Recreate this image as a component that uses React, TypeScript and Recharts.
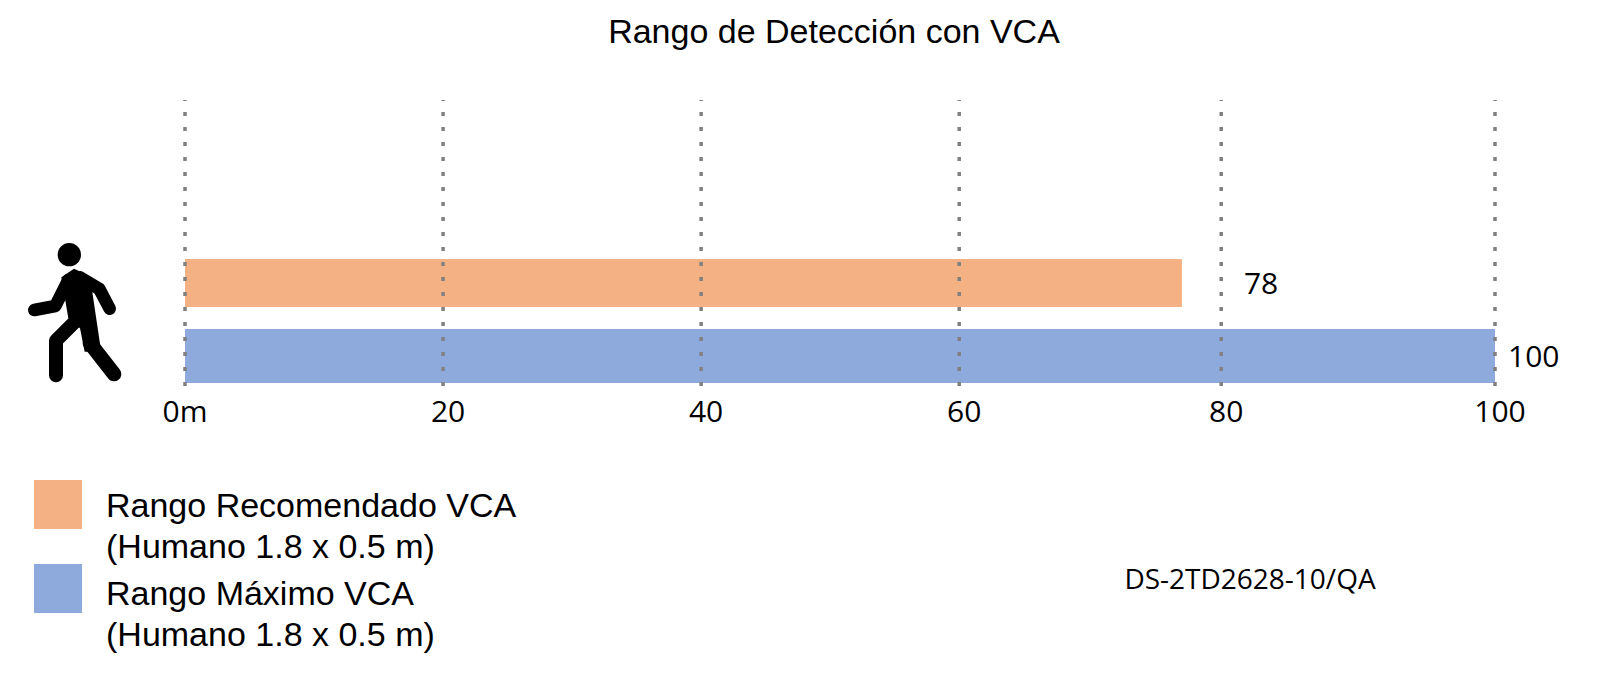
import React from 'react'
import {
  BarChart,
  Bar,
  XAxis,
  YAxis,
  ReferenceLine,
  Legend,
  LabelList,
} from 'recharts'

const categories = ['Humano']
const recommendedValues = [76.1] // bar as drawn in the picture, it stops short of its printed 78
const maximumValues = [100]
const recommendedLabel = '78'
const maximumLabel = '100'
const tickValues = [0, 19.7, 39.4, 59.1, 79.1, 100]
const tickLabels = ['0m', '20', '40', '60', '80', '100']
const seriesNames = ['Rango Recomendado VCA', 'Rango Máximo VCA']
const legendNote = '(Humano 1.8 x 0.5 m)'

const data = categories.map((name, i) => ({
  name,
  recomendado: recommendedValues[i],
  maximo: maximumValues[i],
}))

const ARIAL = '"Liberation Sans", Arial, sans-serif'
const LABEL_FONT = '"Open Sans", sans-serif'

const AxisTick = ({ x, y, index }: any) => (
  <text
    x={x}
    y={y}
    dx={index === 0 ? 0 : 5}
    dy={28}
    textAnchor="middle"
    fontFamily={LABEL_FONT}
    fontSize={30}
    fill="#000"
  >
    {tickLabels[index]}
  </text>
)

const LegendContent = ({ payload }: any) => (
  <div style={{ position: 'relative', width: 600, height: 190 }}>
    {(payload || []).map((item: any, i: number) => (
      <div key={item.value}>
        <div
          style={{
            position: 'absolute',
            left: 34,
            top: i * 84,
            width: 48,
            height: 49,
            background: item.color,
          }}
        />
        <div
          style={{
            position: 'absolute',
            left: 106,
            top: i * 88 + 5,
            fontFamily: ARIAL,
            fontSize: 34,
            lineHeight: '41px',
            color: '#000',
            whiteSpace: 'nowrap',
          }}
        >
          {item.value}
          <br />
          {legendNote}
        </div>
      </div>
    ))}
  </div>
)

const Walker = () => (
  <svg
    width={260}
    height={200}
    viewBox="0 0 780 600"
    style={{ position: 'absolute', left: 0, top: 220 }}
  >
    <circle cx={208} cy={104} r={35} fill="#000" />
    <polygon
      points="184,172 222,146 252,160 276,210 302,385 300,395 254,395 240,325 205,295"
      fill="#000"
    />
    <g fill="none" stroke="#000" strokeLinecap="round" strokeLinejoin="round">
      <polyline points="240,172 298,207 329,266" strokeWidth={38} />
      <polyline points="205,180 166,258 103,270" strokeWidth={38} />
      <polyline points="270,370 342,462" strokeWidth={44} />
      <polyline points="225,305 168,362 168,466" strokeWidth={42} />
    </g>
  </svg>
)

export default function App() {
  return (
    <div style={{ position: 'absolute', left: 0, top: 0, width: 1600, height: 674, background: '#fff' }}>
      <BarChart
        width={1600}
        height={674}
        data={data}
        layout="vertical"
        margin={{ top: 100, right: 105, bottom: 248, left: 185 }}
        barGap={22}
      >
        <text x={834} y={43} textAnchor="middle" fontFamily={ARIAL} fontSize={34} fill="#000">
          Rango de Detección con VCA
        </text>
        <text x={1250} y={589} textAnchor="middle" fontFamily={LABEL_FONT} fontSize={28} fill="#000">
          DS-2TD2628-10/QA
        </text>
        <XAxis
          type="number"
          domain={[0, 100]}
          ticks={tickValues}
          height={40}
          axisLine={false}
          tickLine={false}
          interval={0}
          tick={<AxisTick />}
        />
        <YAxis
          type="category"
          dataKey="name"
          hide
          width={0}
          padding={{ top: 156, bottom: 0 }}
        />
        <Legend
          layout="horizontal"
          verticalAlign="middle"
          itemSorter={null}
          content={<LegendContent />}
          wrapperStyle={{ left: 0, top: 480, width: 600, height: 190 }}
        />
        <Bar
          dataKey="recomendado"
          name={seriesNames[0]}
          fill="#F4B183"
          barSize={48}
          isAnimationActive={false}
        >
          <LabelList
            position="right"
            offset={62}
            valueAccessor={() => recommendedLabel}
            fontFamily={LABEL_FONT}
            fontSize={30}
            fill="#000"
          />
        </Bar>
        <Bar
          dataKey="maximo"
          name={seriesNames[1]}
          fill="#8EA9DB"
          barSize={54}
          isAnimationActive={false}
        >
          <LabelList
            position="right"
            offset={13}
            valueAccessor={() => maximumLabel}
            fontFamily={LABEL_FONT}
            fontSize={30}
            fill="#000"
          />
        </Bar>
        {tickValues.map((v) => (
          <ReferenceLine
            key={v}
            x={v}
            stroke="#808080"
            strokeWidth={3.5}
            strokeDasharray="4 11"
          />
        ))}
      </BarChart>
      <Walker />
    </div>
  )
}
